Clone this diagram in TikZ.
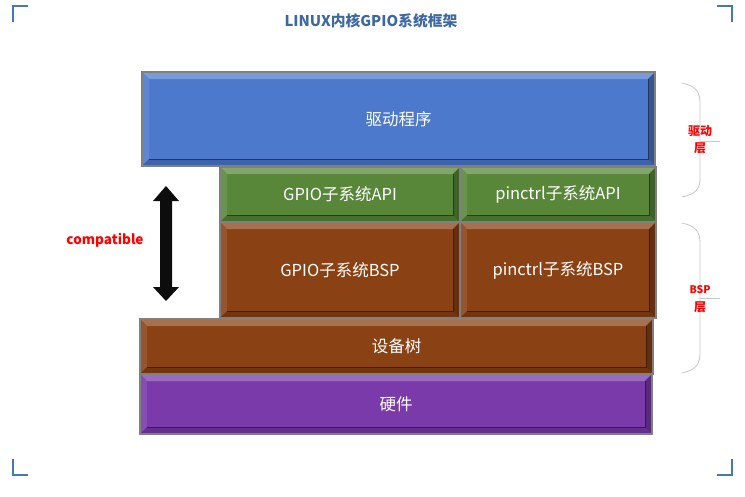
\documentclass[tikz,border=0pt]{standalone}
\usepackage{fontspec}
\newfontfamily\cjk{Noto Sans CJK SC}
\usetikzlibrary{calc}
\definecolor{blueC}{RGB}{77,121,205}
\definecolor{greenC}{RGB}{88,135,58}
\definecolor{brownC}{RGB}{138,66,20}
\definecolor{purpleC}{RGB}{122,58,170}
\definecolor{titleC}{RGB}{62,104,160}
\definecolor{brkC}{RGB}{70,120,180}
\tikzset{
  bevelbox/.style={draw=black!50, line width=1.2pt, fill=#1, text=white,
    font=\cjk\fontsize{16.5}{19}\selectfont, inner sep=0pt, anchor=center,
    path picture={
      \coordinate (bNW) at (path picture bounding box.north west);
      \coordinate (bNE) at (path picture bounding box.north east);
      \coordinate (bSW) at (path picture bounding box.south west);
      \coordinate (bSE) at (path picture bounding box.south east);
      \fill[#1!75!white] (bNW) -- (bNE) -- ([xshift=-7pt,yshift=-7pt]bNE) -- ([xshift=7pt,yshift=-7pt]bNW) -- cycle;
      \fill[#1!90!white] (bNW) -- (bSW) -- ([xshift=7pt,yshift=7pt]bSW) -- ([xshift=7pt,yshift=-7pt]bNW) -- cycle;
      \fill[#1!72!black] (bNE) -- (bSE) -- ([xshift=-7pt,yshift=7pt]bSE) -- ([xshift=-7pt,yshift=-7pt]bNE) -- cycle;
      \fill[#1!82!black] (bSW) -- (bSE) -- ([xshift=-7pt,yshift=7pt]bSE) -- ([xshift=7pt,yshift=7pt]bSW) -- cycle;
      \draw[#1!45!black, line width=0.8pt] ([xshift=7pt,yshift=7pt]bSW) -- ([xshift=-7pt,yshift=7pt]bSE) -- ([xshift=-7pt,yshift=-7pt]bNE);
    }},
  brk/.style={draw=brkC, line width=2.2pt},
  bracestyle/.style={draw=black!22, line width=0.8pt},
  redlabel/.style={text=red, font=\cjk\bfseries\fontsize{12}{14}\selectfont, inner sep=0pt, align=center},
}
\begin{document}
\begin{tikzpicture}[x=1pt,y=-1pt]
\useasboundingbox (0,0) rectangle (745,496);
% corner brackets
\draw[brk] (28,6) -- (13,6) -- (13,22);
\draw[brk] (717,6) -- (732,6) -- (732,22);
\draw[brk] (13,459) -- (13,475) -- (28,475);
\draw[brk] (732,459) -- (732,475) -- (717,475);
% title
\node[text=titleC, font=\cjk\bfseries\fontsize{14.8}{17}\selectfont, inner sep=0pt] (title) at (371,21) {LINUX内核GPIO系统框架};
% boxes
\node[bevelbox=blueC, minimum width=513pt, minimum height=94pt] (drv) at (398.5,119) {驱动程序};
\node[bevelbox=greenC, minimum width=240pt, minimum height=55pt] (gapi) at (340,194.5) {GPIO子系统API};
\node[bevelbox=greenC, minimum width=196pt, minimum height=55pt] (papi) at (558,194.5) {pinctrl子系统API};
\node[bevelbox=brownC, minimum width=240pt, minimum height=96pt] (gbsp) at (340,270) {GPIO子系统BSP};
\node[bevelbox=brownC, minimum width=196pt, minimum height=96pt] (pbsp) at (558,270) {pinctrl子系统BSP};
\node[bevelbox=brownC, minimum width=513pt, minimum height=55pt] (dts) at (396.5,346.5) {设备树};
\node[bevelbox=purpleC, minimum width=512pt, minimum height=60pt] (hw) at (396,404) {硬件};
% double arrow
\fill[black!95] (166,186) -- (179,201) -- (172,201) -- (172,287) -- (179,287) -- (166,301)
  -- (153,287) -- (160,287) -- (160,201) -- (153,201) -- cycle;
\node[redlabel, font=\cjk\bfseries\fontsize{13.5}{15}\selectfont] (compat) at (105,240) {compatible};
% braces
\draw[bracestyle] (682,83) .. controls (696,86) and (700,92) .. (700,103) -- (700,178) .. controls (700,189) and (696,194) .. (682,197);
\draw[bracestyle] (700,141) -- (720,141);
\node[redlabel] (lab1) at (700,131) {驱动};
\node[redlabel] (lab1b) at (700,148) {层};
\draw[bracestyle] (682,223) .. controls (696,226) and (700,232) .. (700,243) -- (700,353) .. controls (700,364) and (696,370) .. (682,373);
\draw[bracestyle] (700,298) -- (720,298);
\node[redlabel, font=\cjk\bfseries\fontsize{10.5}{12}\selectfont] (lab2) at (700,290) {BSP};
\node[redlabel] (lab2b) at (700,307) {层};
\end{tikzpicture}
\end{document}
